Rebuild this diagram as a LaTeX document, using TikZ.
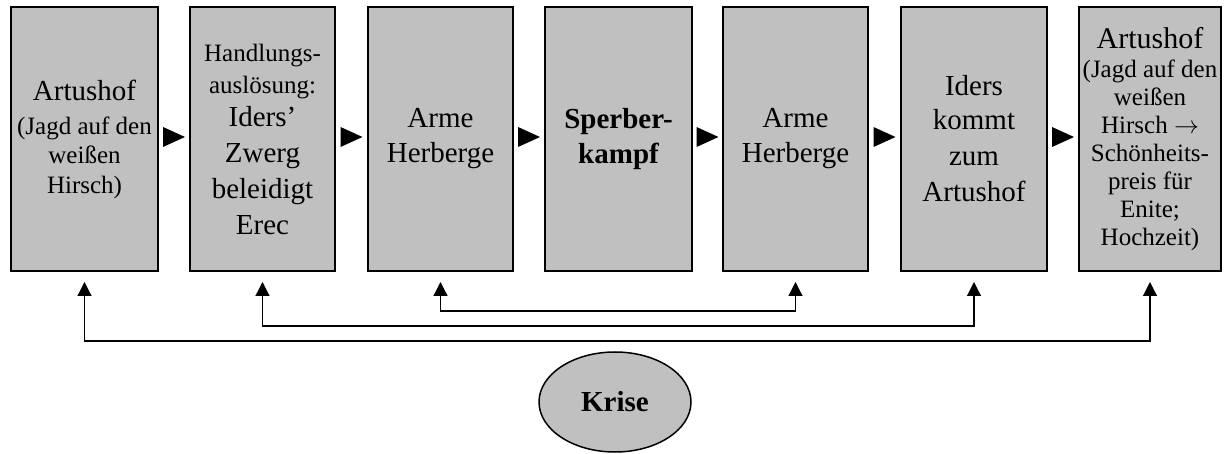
\documentclass[tikz,border=0pt]{standalone}
\usepackage{fontspec}
\setmainfont{Liberation Serif}
\usetikzlibrary{arrows.meta,shapes.geometric,calc}
\definecolor{boxgray}{HTML}{C0C0C0}
\newcommand{\ctrline}[3]{\fontsize{#1}{#2}\selectfont\hbox to 0pt{\hss#3\hss}}
\begin{document}
\begin{tikzpicture}[x=1pt,y=-1pt,
  stagebox/.style={draw=black,line width=2pt,fill=boxgray,minimum height=264pt,inner sep=0pt},
  con/.style={line width=1.2pt,{Triangle[width=14pt,length=14pt]}-{Triangle[width=14pt,length=14pt]}},
  crisis/.style={ellipse,draw=black,line width=1.5pt,fill=boxgray,minimum width=152pt,
    minimum height=100pt,inner sep=0pt,font=\fontsize{29}{34}\selectfont\bfseries}]
\useasboundingbox (0,0) rectangle (1224,454);
\node[stagebox,minimum width=147pt] (b1) at (84.5,139)
  {\vbox{\ctrline{29}{34}{Artushof}\ctrline{25}{34}{(Jagd auf den}\ctrline{25}{29}{weißen}\ctrline{25}{30}{Hirsch)}}};
\node[stagebox,minimum width=145pt] (b2) at (262.5,139)
  {\vbox{\ctrline{25}{32}{Handlungs-}\ctrline{25}{32}{auslösung:}\ctrline{29}{33}{Iders’}\ctrline{29}{36}{Zwerg}\ctrline{29}{36}{beleidigt}\ctrline{29}{36}{Erec}}};
\node[stagebox,minimum width=145pt] (b3) at (440.5,139) {\vbox{\ctrline{29}{35}{Arme}\ctrline{29}{35}{Herberge}}};
\node[stagebox,minimum width=147pt] (b4) at (618.5,139) {\vbox{\bfseries\ctrline{29}{35}{Sperber-}\ctrline{29}{35}{kampf}}};
\node[stagebox,minimum width=145pt] (b5) at (795.5,139) {\vbox{\ctrline{29}{35}{Arme}\ctrline{29}{35}{Herberge}}};
\node[stagebox,minimum width=146pt] (b6) at (974,139) {\vbox{\ctrline{29}{35}{Iders}\ctrline{29}{34}{kommt}\ctrline{29}{36}{zum}\ctrline{29}{36}{Artushof}}};
\node[stagebox,minimum width=142pt] (b7) at (1150,139)
  {\vbox{\ctrline{30}{34}{Artushof}\ctrline{25}{29}{(Jagd auf den}\ctrline{25}{28}{weißen}\ctrline{25}{28}{Hirsch $\rightarrow$}\ctrline{25}{28}{Schönheits-}\ctrline{25}{28}{preis für}\ctrline{25}{28}{Enite;}\ctrline{25}{28}{Hochzeit)}}};
\foreach \a/\b in {b1/b2,b2/b3,b3/b4,b4/b5,b5/b6,b6/b7}{
  \path (\a.east) -- (\b.west) coordinate[pos=0.5] (m\a);
  \fill[black] ($(m\a)+(-11,-12)$) -- ($(m\a)+(11,-2)$) -- ($(m\a)+(-11,8)$) -- cycle;
}
\draw[con] ([yshift=-10pt]b3.south) -- (b3.south |- 0,311) -- (b5.south |- 0,311) -- ([yshift=-10pt]b5.south);
\draw[con] ([yshift=-10pt]b2.south) -- (b2.south |- 0,326) -- (b6.south |- 0,326) -- ([yshift=-10pt]b6.south);
\draw[con] ([yshift=-10pt]b1.south) -- (b1.south |- 0,341) -- (b7.south |- 0,341) -- ([yshift=-10pt]b7.south);
\node[crisis] (k) at (615,402) {Krise};
\end{tikzpicture}
\end{document}
